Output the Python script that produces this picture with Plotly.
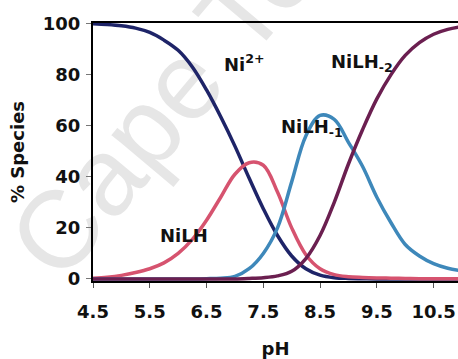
import plotly.graph_objects as go

# pH grid shared by all series
ph = [4.5, 4.75, 5.0, 5.25, 5.5, 5.75, 6.0, 6.25, 6.5, 6.75, 7.0, 7.25, 7.5,
      7.75, 8.0, 8.25, 8.5, 8.75, 9.0, 9.25, 9.5, 9.75, 10.0, 10.25, 10.5,
      10.75, 11.0]

ni2 = [99.9, 99.6, 99.1, 98.2, 96.5, 93.5, 89.5, 83, 74, 63.5, 52, 39.5, 27.5,
       17, 9, 4, 1.5, 0.5, 0.2, 0.1, 0, 0, 0, 0, 0, 0, 0]
nilh = [0.3, 0.7, 1.4, 2.5, 4, 6.3, 10, 15.5, 23, 32, 41, 45.5, 44.5,
        34, 20, 9.5, 4, 1.7, 0.9, 0.6, 0.4, 0.3, 0.2, 0.1, 0.1, 0.1, 0.1]
nilh_1 = [0, 0, 0, 0, 0, 0, 0, 0, 0.1, 0.3, 1, 4, 10,
          20, 38, 56, 64, 62.5, 53.5, 44, 32, 22, 13.5, 9, 6, 4.2, 3.2]
nilh_2 = [0, 0, 0, 0, 0, 0, 0, 0, 0, 0, 0, 0.2, 0.5,
          1.2, 3, 8, 17, 30, 45, 58.5, 70.5, 80, 87.5, 92.5, 95.8, 97.7, 98.8]

x_ticks = [4.5, 5.5, 6.5, 7.5, 8.5, 9.5, 10.5]
y_ticks = [0, 20, 40, 60, 80, 100]

series = [
    ("Ni2+", ni2, "#1e2468"),
    ("NiLH", nilh, "#d6536f"),
    ("NiLH-1", nilh_1, "#3e88ba"),
    ("NiLH-2", nilh_2, "#6b1f50"),
]

FONT = "DejaVu Sans"

fig = go.Figure()
for name, vals, col in series:
    fig.add_trace(go.Scatter(x=ph, y=vals, mode="lines", name=name,
                             line=dict(color=col, width=3.5, shape="spline",
                                       smoothing=1.0)))

labels = [
    ("Ni<sup>2+</sup>", 6.78, 84.5),
    ("NiLH<sub>-2</sub>", 8.66, 84.5),
    ("NiLH<sub>-1</sub>", 7.78, 59.0),
    ("NiLH", 5.64, 17.0),
]
for txt, xx, yy in labels:
    fig.add_annotation(x=xx, y=yy, xref="x", yref="y", text=txt,
                       showarrow=False, xanchor="left", yanchor="middle",
                       font=dict(family=FONT, size=18, color="#111",
                                 weight="bold"))

# faint watermark drawn beneath the curves
fig.add_shape(type="rect", xref="paper", yref="paper",
              x0=0.193, x1=0.393, y0=0.817, y1=1.017, layer="below",
              line=dict(width=0), fillcolor="rgba(0,0,0,0)",
              label=dict(text="Cape Town", textangle=-50,
                         textposition="middle center",
                         font=dict(family="Liberation Sans", size=110,
                                   color="#e6e6e6", weight="normal")))

fig.update_layout(
    width=458, height=359,
    margin=dict(l=93, r=0, t=23, b=78),
    paper_bgcolor="white", plot_bgcolor="rgba(0,0,0,0)",
    showlegend=False,
    font=dict(family=FONT, size=18, color="#111", weight="bold"),
)
fig.update_xaxes(
    range=[4.5, 10.93], tickvals=x_ticks, ticktext=[str(v) for v in x_ticks],
    showgrid=False, zeroline=False,
    showline=True, linecolor="black", linewidth=2, mirror=True,
    ticks="outside", ticklen=5, tickcolor="#555", tickwidth=1,
    tickfont=dict(family=FONT, size=18, color="#111", weight="bold"),
    ticklabelstandoff=8,
    title=dict(text="pH", standoff=23,
               font=dict(family=FONT, size=18, color="#111", weight="bold")),
)
fig.update_yaxes(
    range=[-0.8, 100.2], tickvals=y_ticks,
    showgrid=False, zeroline=False,
    showline=True, linecolor="black", linewidth=2,
    ticks="outside", ticklen=5, tickcolor="#777", tickwidth=1,
    tickfont=dict(family=FONT, size=18, color="#111", weight="bold"),
    ticklabelstandoff=2,
    title=dict(text="% Species", standoff=14,
               font=dict(family=FONT, size=18, color="#111", weight="bold")),
)

fig.write_html("out.html")
